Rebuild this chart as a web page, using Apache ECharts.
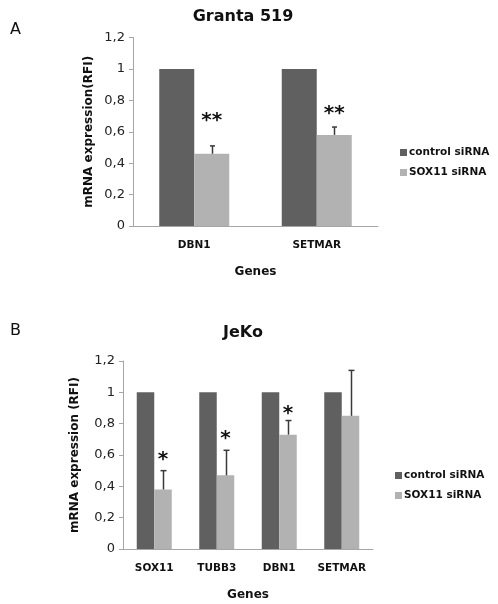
<!DOCTYPE html>
<html>
<head>
<meta charset="utf-8">
<script src="https://cdn.jsdelivr.net/npm/echarts@6/dist/echarts.min.js"></script>
<style>html,body{margin:0;padding:0;background:#fff;}#c{width:498px;height:604px;}</style>
</head>
<body>
<div id="c"></div>
<script>
// Panel A: Granta 519
var catsA = ['DBN1', 'SETMAR'];
var ctrlA = [1, 1];
var soxA = [0.46, 0.58];
var errA = [0.05, 0.05];
var sigA = ['**', '**'];
var sigYA = [0.68, 0.725];

// Panel B: JeKo
var catsB = ['SOX11', 'TUBB3', 'DBN1', 'SETMAR'];
var ctrlB = [1, 1, 1, 1];
var soxB = [0.38, 0.47, 0.73, 0.85];
var errB = [0.12, 0.16, 0.09, 0.29];
var sigB = ['*', '*', '*', ''];
var sigYB = [0.58, 0.715, 0.875, 0];

var yTicks = [0, 0.2, 0.4, 0.6, 0.8, 1, 1.2];

var DARK = '#606060', LIGHT = '#b2b2b2', AXIS = '#a6a6a6';
var FONT = 'DejaVu Sans';

function fmt(v) { return String(Math.round(v * 10) / 10).replace('.', ','); }

function yAxisCfg(grid, name, gap) {
  return {
    type: 'value', gridIndex: grid, min: yTicks[0], max: yTicks[yTicks.length - 1], interval: 0.2,
    name: name, nameLocation: 'middle', nameGap: gap, nameRotate: 90,
    nameTextStyle: { fontFamily: FONT, fontWeight: 'bold', fontSize: 12, color: '#111' },
    axisLine: { show: true, lineStyle: { color: AXIS, width: 1 } },
    axisTick: { show: true, length: 4, lineStyle: { color: AXIS } },
    splitLine: { show: false },
    axisLabel: { formatter: fmt, fontFamily: FONT, fontSize: 13, color: '#222', margin: 8 }
  };
}
function xAxisCfg(grid, cats) {
  return {
    type: 'category', gridIndex: grid, data: cats,
    name: 'Genes', nameLocation: 'middle', nameGap: 40,
    nameTextStyle: { fontFamily: FONT, fontWeight: 'bold', fontSize: 12, color: '#111' },
    axisLine: { lineStyle: { color: AXIS, width: 1 } },
    axisTick: { show: false },
    axisLabel: { interval: 0, fontFamily: FONT, fontWeight: 'bold', fontSize: 10.5, color: '#111', margin: 14 }
  };
}

function errSeries(grid, vals, errs, bw, cap) {
  return {
    type: 'custom', name: 'err' + grid, xAxisIndex: grid, yAxisIndex: grid, z: 5,
    data: vals.map(function (v, i) { return [i, v, errs[i]]; }),
    renderItem: function (params, api) {
      var base = api.coord([api.value(0), api.value(1)]);
      var top = api.coord([api.value(0), api.value(1) + api.value(2)]);
      var x = Math.round(base[0] + bw / 2) + 0.5;
      return {
        type: 'group', children: [
          { type: 'line', shape: { x1: x, y1: base[1], x2: x, y2: top[1] }, style: { stroke: '#3a3a3a', lineWidth: 1.5 } },
          { type: 'line', shape: { x1: x - cap, y1: top[1], x2: x + cap, y2: top[1] }, style: { stroke: '#3a3a3a', lineWidth: 1.5 } }
        ]
      };
    }
  };
}
function sigSeries(grid, marks, ys, bw, size) {
  return {
    type: 'custom', name: 'sig' + grid, xAxisIndex: grid, yAxisIndex: grid, z: 6,
    data: ys.map(function (y, i) { return [i, y, marks[i]]; }),
    renderItem: function (params, api) {
      var p = api.coord([api.value(0), api.value(1)]);
      var t = marks[params.dataIndex];
      return {
        type: 'text', x: p[0] + bw / 2, y: p[1] + size * 0.1,
        style: { text: t, fontFamily: FONT, fontWeight: 'bold', fontSize: size, fill: '#111', align: 'center', verticalAlign: 'middle' }
      };
    }
  };
}

var bwA = 35, bwB = 17.5;

var option = {
  animation: false,
  backgroundColor: '#fff',
  title: [
    { text: 'Granta 519', left: 238, top: 4, textAlign: 'center', textStyle: { fontFamily: FONT, fontWeight: 'bold', fontSize: 16, color: '#111' } },
    { text: 'A', left: 5, top: 17, textStyle: { fontFamily: FONT, fontWeight: 'normal', fontSize: 16, color: '#111' } },
    { text: 'JeKo', left: 238, top: 320, textAlign: 'center', textStyle: { fontFamily: FONT, fontWeight: 'bold', fontSize: 16, color: '#111' } },
    { text: 'B', left: 5, top: 318, textStyle: { fontFamily: FONT, fontWeight: 'normal', fontSize: 16, color: '#111' } }
  ],
  legend: [
    { orient: 'vertical', left: 395, top: 142, itemWidth: 7, itemHeight: 7, itemGap: 9, icon: 'rect',
      data: ['control siRNA', 'SOX11 siRNA'],
      textStyle: { fontFamily: FONT, fontWeight: 'bold', fontSize: 10.5, color: '#111', padding: [0, 0, 0, -3] } },
    { orient: 'vertical', left: 390, top: 465, itemWidth: 7, itemHeight: 7, itemGap: 9, icon: 'rect',
      data: ['control siRNA', 'SOX11 siRNA'],
      textStyle: { fontFamily: FONT, fontWeight: 'bold', fontSize: 10.5, color: '#111', padding: [0, 0, 0, -3] } }
  ],
  grid: [
    { left: 133, right: 120, top: 37.5, height: 188.5 },
    { left: 123, right: 125, top: 361, height: 188 }
  ],
  xAxis: [xAxisCfg(0, catsA), xAxisCfg(1, catsB)],
  yAxis: [yAxisCfg(0, 'mRNA expression(RFI)', 38), yAxisCfg(1, 'mRNA expression (RFI)', 42)],
  series: [
    { type: 'bar', name: 'control siRNA', xAxisIndex: 0, yAxisIndex: 0, data: ctrlA, barWidth: bwA, barGap: '0%', itemStyle: { color: DARK } },
    { type: 'bar', name: 'SOX11 siRNA', xAxisIndex: 0, yAxisIndex: 0, data: soxA, barWidth: bwA, barGap: '0%', itemStyle: { color: LIGHT } },
    { type: 'bar', name: 'control siRNA', xAxisIndex: 1, yAxisIndex: 1, data: ctrlB, barWidth: bwB, barGap: '0%', itemStyle: { color: DARK } },
    { type: 'bar', name: 'SOX11 siRNA', xAxisIndex: 1, yAxisIndex: 1, data: soxB, barWidth: bwB, barGap: '0%', itemStyle: { color: LIGHT } },
    errSeries(0, soxA, errA, bwA, 2.5),
    errSeries(1, soxB, errB, bwB, 3),
    sigSeries(0, sigA, sigYA, bwA, 20),
    sigSeries(1, sigB, sigYB, bwB, 20)
  ]
};
echarts.init(document.getElementById('c')).setOption(option);
</script>
</body>
</html>
